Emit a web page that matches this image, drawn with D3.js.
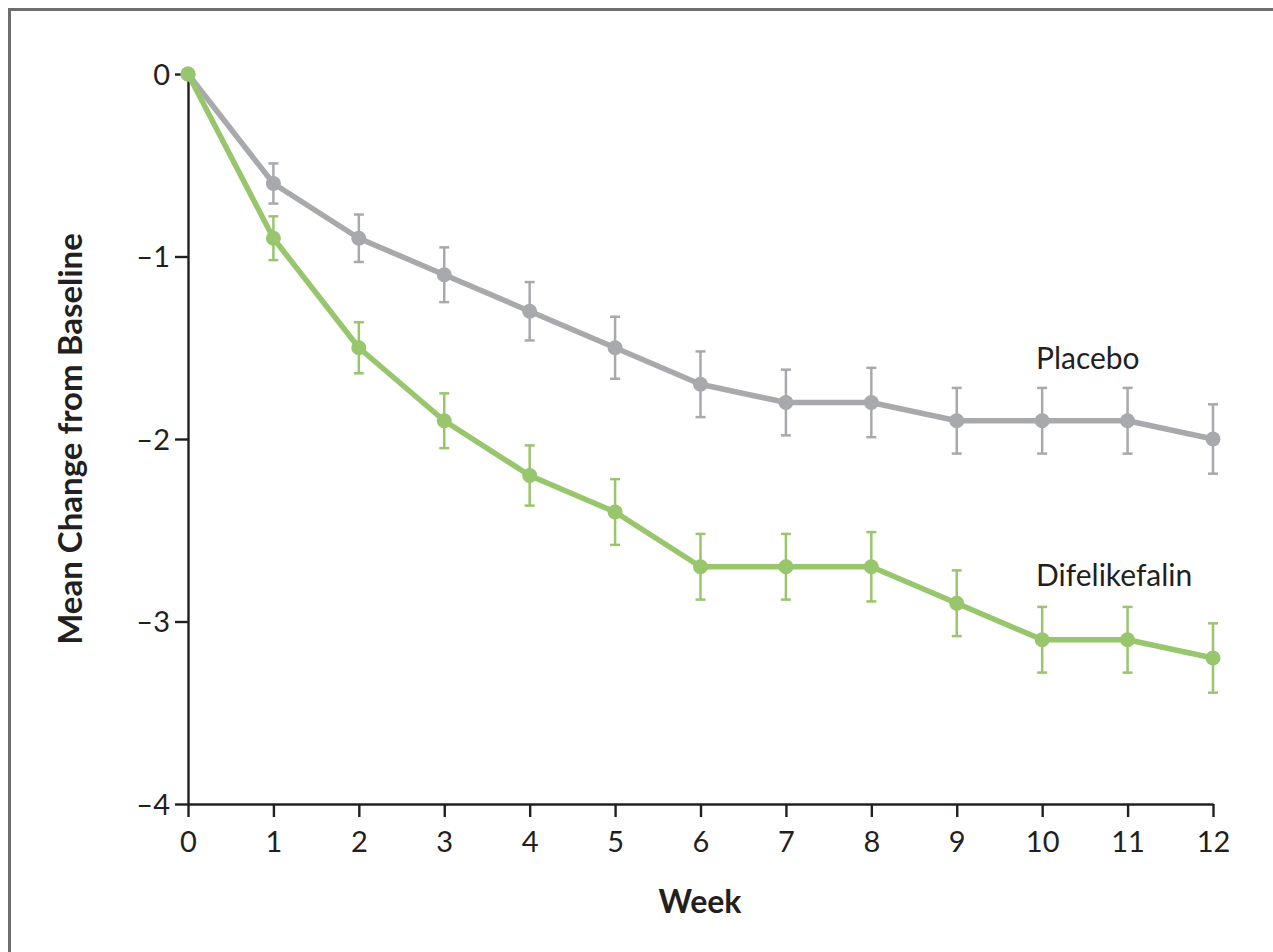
<!DOCTYPE html>
<html>
<head>
<meta charset="utf-8">
<script src="https://cdn.jsdelivr.net/npm/d3@7"></script>
<style>
  body { margin: 0; background: #fff; }
  svg { display: block; }
  text { font-family: Lato, "Noto Sans", sans-serif; fill: #231f20; }
</style>
</head>
<body>
<svg id="chart" width="1273" height="952"></svg>
<script>
// data
var weeks = [0, 1, 2, 3, 4, 5, 6, 7, 8, 9, 10, 11, 12];
var placebo = [0, -0.6, -0.9, -1.1, -1.3, -1.5, -1.7, -1.8, -1.8, -1.9, -1.9, -1.9, -2.0];
var placeboErr = [0, 0.11, 0.13, 0.15, 0.16, 0.17, 0.18, 0.18, 0.19, 0.18, 0.18, 0.18, 0.19];
var difelikefalin = [0, -0.9, -1.5, -1.9, -2.2, -2.4, -2.7, -2.7, -2.7, -2.9, -3.1, -3.1, -3.2];
var difelikefalinErr = [0, 0.12, 0.14, 0.15, 0.165, 0.18, 0.18, 0.18, 0.19, 0.18, 0.18, 0.18, 0.19];
var yTicks = [0, -1, -2, -3, -4];

var svg = d3.select("#chart");

// outer frame (cropped at right and bottom)
svg.append("rect")
    .attr("x", 9.5).attr("y", 9.5)
    .attr("width", 1300).attr("height", 1000)
    .attr("fill", "none")
    .attr("stroke", "#6d6e70")
    .attr("stroke-width", 3);

var x = d3.scaleLinear().domain([0, 12]).range([188, 1213]);
var y = d3.scaleLinear().domain([-4, 0]).range([804, 74]);

// axes
var xAxis = svg.append("g")
    .attr("transform", "translate(0," + y(-4) + ")")
    .call(d3.axisBottom(x).tickValues(weeks).tickSize(13).tickSizeOuter(0).tickPadding(14));
var yAxis = svg.append("g")
    .attr("transform", "translate(" + x(0) + ",0)")
    .call(d3.axisLeft(y).tickValues(yTicks).tickSize(13).tickSizeOuter(0).tickPadding(5)
      .tickFormat(function(d){ return d === 0 ? "0" : "\u2013" + Math.abs(d); }));

[xAxis, yAxis].forEach(function(a){
  a.select(".domain").attr("stroke", "#231f20").attr("stroke-width", 2.4);
  a.selectAll(".tick line").attr("stroke", "#231f20").attr("stroke-width", 2.4);
  a.selectAll(".tick text").style("font-size", "29px").attr("fill", "#231f20")
    .style("font-family", "Lato, 'Noto Sans', sans-serif");
});
yAxis.selectAll(".tick text").attr("dy", "0.36em");

// axis titles
svg.append("text")
    .attr("transform", "translate(82," + y(-2) + ") rotate(-90)")
    .attr("text-anchor", "middle")
    .style("font-size", "33px").style("font-weight", "bold")
    .text("Mean Change from Baseline");
svg.append("text")
    .attr("x", 700).attr("y", 913)
    .attr("text-anchor", "middle")
    .style("font-size", "32px").style("font-weight", "bold")
    .text("Week");

var series = [
  {name: "Placebo", values: placebo, err: placeboErr, color: "#a7a9ac", label: [1036, -1.56]},
  {name: "Difelikefalin", values: difelikefalin, err: difelikefalinErr, color: "#98c66c", label: [1036, -2.75]}
];

var line = d3.line()
    .x(function(d, i){ return x(weeks[i]); })
    .y(function(d){ return y(d); });

series.forEach(function(s){
  var g = svg.append("g");
  // error bars
  var eb = g.selectAll(".err")
      .data(weeks.filter(function(w){ return s.err[w] > 0; }))
    .enter().append("g");
  eb.append("line")
      .attr("x1", function(w){ return x(w); })
      .attr("x2", function(w){ return x(w); })
      .attr("y1", function(w){ return y(s.values[w] + s.err[w]); })
      .attr("y2", function(w){ return y(s.values[w] - s.err[w]); });
  eb.append("line")
      .attr("x1", function(w){ return x(w) - 5; })
      .attr("x2", function(w){ return x(w) + 5; })
      .attr("y1", function(w){ return y(s.values[w] + s.err[w]); })
      .attr("y2", function(w){ return y(s.values[w] + s.err[w]); });
  eb.append("line")
      .attr("x1", function(w){ return x(w) - 5; })
      .attr("x2", function(w){ return x(w) + 5; })
      .attr("y1", function(w){ return y(s.values[w] - s.err[w]); })
      .attr("y2", function(w){ return y(s.values[w] - s.err[w]); });
  eb.selectAll("line").attr("stroke", s.color).attr("stroke-width", 2.5);

  g.append("path")
      .datum(s.values)
      .attr("d", line)
      .attr("fill", "none")
      .attr("stroke", s.color)
      .attr("stroke-width", 5.5)
      .attr("stroke-linejoin", "round");

  g.selectAll("circle")
      .data(s.values)
    .enter().append("circle")
      .attr("cx", function(d, i){ return x(weeks[i]); })
      .attr("cy", function(d){ return y(d); })
      .attr("r", 7.5)
      .attr("fill", s.color);

  svg.append("text")
      .attr("x", s.label[0])
      .attr("y", y(s.label[1]))
      .attr("dy", "0.35em")
      .style("font-size", "30px")
      .text(s.name);
});
</script>
</body>
</html>
